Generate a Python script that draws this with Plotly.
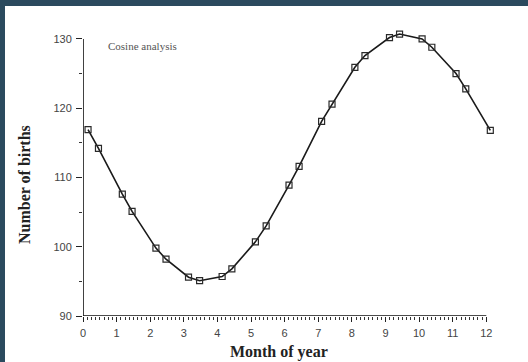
import plotly.graph_objects as go

# Data
months = [0.15, 0.46, 1.17, 1.46, 2.17, 2.47, 3.14, 3.47, 4.14, 4.43, 5.13, 5.45,
          6.13, 6.43, 7.10, 7.41, 8.09, 8.39, 9.12, 9.42, 10.09, 10.38, 11.10, 11.39, 12.12]
births = [116.9, 114.2, 107.6, 105.1, 99.8, 98.2, 95.6, 95.1, 95.7, 96.8, 100.7, 103.0,
          108.9, 111.6, 118.1, 120.6, 125.9, 127.6, 130.2, 130.7, 130.0, 128.8, 125.0, 122.8, 116.8]
x_ticks = list(range(0, 13))
y_ticks = [90, 100, 110, 120, 130]
y_minor = [95, 105, 115, 125]
x_minor = [i / 8 for i in range(0, 97)]

fig = go.Figure()
fig.add_trace(go.Scatter(
    x=months, y=births, mode="lines+markers",
    line=dict(color="#1a1a1a", width=1.6),
    marker=dict(symbol="square-open", size=6, color="#2a2a2a", line=dict(width=1.2)),
    cliponaxis=False, showlegend=False, hoverinfo="skip",
))

W, H = 528, 362
L, R, T, B = 83, 35, 32, 46
pw, ph = W - L - R, H - T - B

def px_to_paper_x(px):
    return (px - L) / pw

def px_to_paper_y(py):
    return (H - B - py) / ph

border = "#2b4a5e"
fig.add_shape(type="rect", xref="paper", yref="paper",
              x0=px_to_paper_x(-2), x1=px_to_paper_x(5), y0=px_to_paper_y(H + 2), y1=px_to_paper_y(-2),
              fillcolor=border, line=dict(width=0), layer="below")
fig.add_shape(type="rect", xref="paper", yref="paper",
              x0=px_to_paper_x(-2), x1=px_to_paper_x(W + 2), y0=px_to_paper_y(6), y1=px_to_paper_y(-2),
              fillcolor=border, line=dict(width=0), layer="below")

# axis lines ending exactly at the last ticks
fig.add_shape(type="line", xref="x", yref="y", x0=0, x1=0, y0=90, y1=130,
              line=dict(color="#111111", width=1.6))
fig.add_shape(type="line", xref="x", yref="y", x0=0, x1=12, y0=90, y1=90,
              line=dict(color="#111111", width=1.6))

fig.add_annotation(text="Cosine analysis", xref="paper", yref="paper",
                   x=px_to_paper_x(106), y=px_to_paper_y(46), xanchor="left", yanchor="middle",
                   showarrow=False, font=dict(family="Liberation Serif", size=11, color="#555555"))
fig.add_annotation(text="<b>Month of year</b>", xref="paper", yref="paper",
                   x=px_to_paper_x(279), y=px_to_paper_y(352), xanchor="center", yanchor="middle",
                   showarrow=False, font=dict(family="Liberation Serif", size=16, color="#222222"))
fig.add_annotation(text="<b>Number of births</b>", xref="paper", yref="paper",
                   x=px_to_paper_x(24), y=px_to_paper_y(185), xanchor="center", yanchor="middle",
                   textangle=-90, showarrow=False,
                   font=dict(family="Liberation Serif", size=16, color="#222222"))

tickfont = dict(family="Liberation Sans", size=11, color="#444444")
fig.update_xaxes(range=[0, 12.2], tickvals=x_ticks, ticktext=[str(v) for v in x_ticks],
                 showgrid=False, zeroline=False, showline=False,
                 ticks="outside", ticklen=5, tickwidth=1.2, tickcolor="#222222",
                 ticklabelstandoff=2,
                 minor=dict(tickmode="array", tickvals=x_minor, ticks="outside", ticklen=3,
                            tickwidth=1, tickcolor="#333333", showgrid=False),
                 tickfont=tickfont)
fig.update_yaxes(range=[90, 131], tickvals=y_ticks, ticktext=[str(v) for v in y_ticks],
                 showgrid=False, zeroline=False, showline=False,
                 ticks="outside", ticklen=6, tickwidth=1.2, tickcolor="#222222",
                 ticklabelstandoff=2,
                 minor=dict(tickmode="array", tickvals=y_minor, ticks="outside", ticklen=3,
                            tickwidth=1, tickcolor="#333333", showgrid=False),
                 tickfont=tickfont)

fig.update_layout(width=W, height=H, margin=dict(l=L, r=R, t=T, b=B),
                  paper_bgcolor="white", plot_bgcolor="white", hovermode=False)
fig.write_html("out.html", config={"displayModeBar": False},
               post_script="document.body.style.margin='0';")
